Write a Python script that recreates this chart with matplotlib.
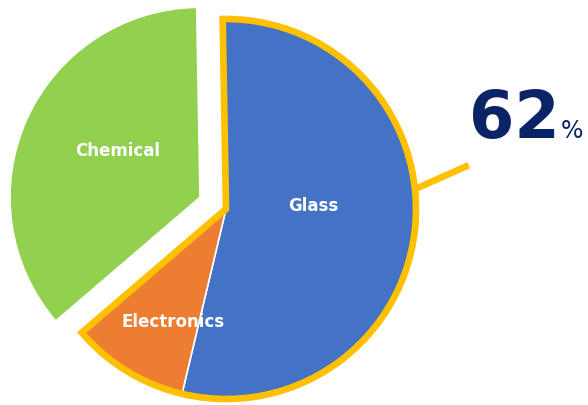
import numpy as np
import matplotlib
matplotlib.use("Agg")
import matplotlib.pyplot as plt
from matplotlib.patches import Wedge

# shares (clockwise from 12 o'clock)
labels = ["Glass", "Electronics", "Chemical"]
shares = [54, 10, 36]
colors = ["#4472C4", "#ED7D31", "#92D050"]
explode = [0, 0, 0.15]
highlight = "62"
START = 91
YELLOW = "#FFC000"
NAVY = "#0B2466"

fig = plt.figure(figsize=(5.88, 4.06), dpi=100)
ax = fig.add_axes([0, 0, 1, 1])
wedges, _ = ax.pie(shares, colors=colors, explode=explode, startangle=START,
                   counterclock=False, radius=1.0,
                   wedgeprops=dict(edgecolor="white", linewidth=1.2))

# labels inside the slices
ldist = [0.46, 0.65, 0.50]
loff = [9, 6, -6]
for w, lab, d, o in zip(wedges, labels, ldist, loff):
    mid = np.deg2rad((w.theta1 + w.theta2) / 2 + o)
    cx, cy = w.center
    ax.text(cx + d * np.cos(mid), cy + d * np.sin(mid), lab, color="white",
            fontsize=12, fontweight="bold", ha="center", va="center")

# yellow outline round glass + electronics
t1 = wedges[1].theta1
t2 = wedges[0].theta2
ax.add_patch(Wedge((0, 0), 1.0, t1, t2, fill=False, edgecolor=YELLOW,
                   linewidth=4.8, joinstyle="miter"))

# leader line
a0 = np.deg2rad(6)
p0 = np.array([np.cos(a0), np.sin(a0)])
d = np.deg2rad(24)
p1 = p0 + 0.31 * np.array([np.cos(d), np.sin(d)])
ax.plot([p0[0], p1[0]], [p0[1], p1[1]], color=YELLOW, lw=4.8,
        solid_capstyle="butt")

ax.text(1.28, 0.379, highlight, color=NAVY, fontsize=47, fontweight="bold",
        ha="left", va="baseline")
ax.text(1.76, 0.379, "%", color=NAVY, fontsize=17, ha="left", va="baseline")

ax.set_xlim(-226 / 190, 362 / 190)
ax.set_ylim(-196 / 190, 210 / 190)
ax.set_aspect("auto")
ax.axis("off")
fig.savefig("out.png", dpi=100)
